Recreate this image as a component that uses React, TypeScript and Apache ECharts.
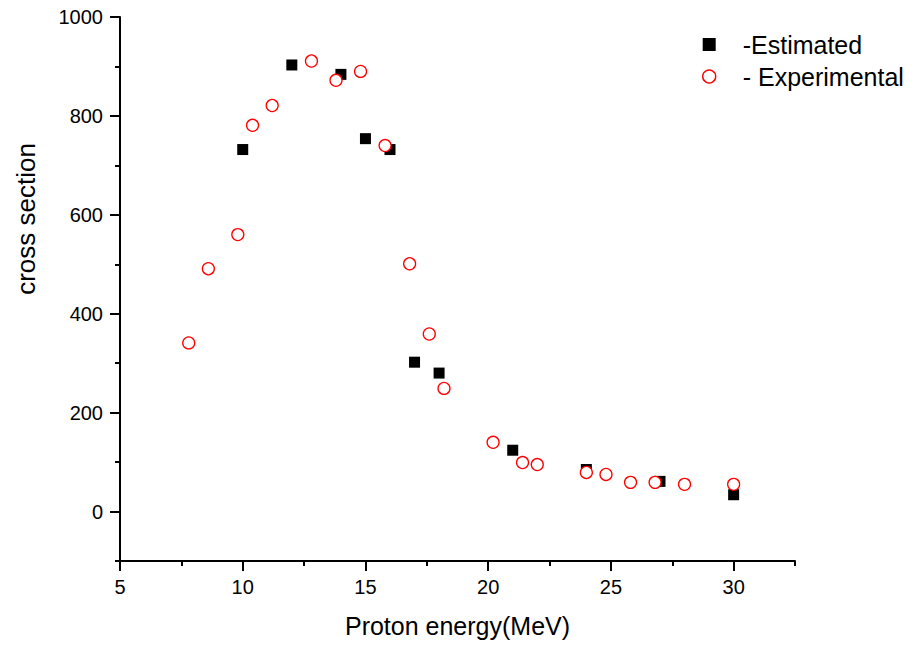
import React, { useEffect, useRef } from 'react';
import * as echarts from 'echarts';

const estimatedName = '-Estimated';
const experimentalName = '- Experimental';
const estimatedX = [10, 12, 14, 15, 16, 17, 18, 21, 24, 27, 30];
const estimatedY = [732, 903, 884, 754, 732, 302, 280, 124, 85, 61, 34];
const experimentalX = [7.8, 8.6, 9.8, 10.4, 11.2, 12.8, 13.8, 14.8, 15.8, 16.8, 17.6, 18.2, 20.2, 21.4, 22, 24, 24.8, 25.8, 26.8, 28, 30];
const experimentalY = [341, 491, 560, 781, 821, 911, 872, 890, 740, 501, 359, 249, 140, 99, 95, 79, 75, 59, 59, 55, 55];
const xMajorTicks = [5, 10, 15, 20, 25, 30];
const xMinorTicks = [7.5, 12.5, 17.5, 22.5, 27.5, 32.5];
const yMajorTicks = [0, 200, 400, 600, 800, 1000];
const yMinorTicks = [-100, 100, 300, 500, 700, 900];
const xAxisTitle = 'Proton energy(MeV)';
const yAxisTitle = 'cross section';

const FONT = '"Liberation Sans", Arial, sans-serif';

export default function App() {
  const ref = useRef<HTMLDivElement>(null);
  useEffect(() => {
    if (!ref.current) return;
    const chart = echarts.init(ref.current, null, { renderer: 'svg' });
    const axisLine = { show: true, onZero: false, lineStyle: { color: '#000', width: 2 } };
    const plain = (v: number) => String(v);
    chart.setOption({
      animation: false,
      backgroundColor: '#fff',
      textStyle: { fontFamily: FONT },
      grid: { left: 120, right: 120, top: 17, bottom: 87, containLabel: false },
      legend: {
        orient: 'vertical',
        left: 697,
        top: 27,
        itemWidth: 13,
        itemHeight: 13,
        itemGap: 7,
        textStyle: { fontSize: 25, color: '#000', fontFamily: FONT, padding: [0, 0, 0, 22] },
        data: [
          { name: estimatedName, icon: 'rect', itemStyle: { color: '#000', opacity: 1 } },
          { name: experimentalName, icon: 'circle', itemStyle: { color: '#fff', borderColor: '#ff0000', borderWidth: 1.4, opacity: 1 } },
        ],
      },
      xAxis: [
        {
          type: 'value', min: 5, max: 32.5, position: 'bottom',
          axisLine,
          axisTick: { show: true, customValues: xMajorTicks, length: 10, lineStyle: { color: '#000', width: 2 } },
          axisLabel: { customValues: xMajorTicks, formatter: plain, fontSize: 20, color: '#000', margin: 16, fontFamily: FONT },
          splitLine: { show: false },
          name: xAxisTitle, nameLocation: 'middle', nameGap: 52,
          nameTextStyle: { fontSize: 25, color: '#000', fontFamily: FONT },
        },
        {
          type: 'value', min: 5, max: 32.5, position: 'bottom',
          axisLine: { show: false, onZero: false },
          axisTick: { show: true, customValues: xMinorTicks, length: 5, lineStyle: { color: '#000', width: 2 } },
          axisLabel: { show: false },
          splitLine: { show: false },
        },
      ],
      yAxis: [
        {
          type: 'value', min: -100, max: 1000, position: 'left',
          axisLine,
          axisTick: { show: true, customValues: yMajorTicks, length: 10, lineStyle: { color: '#000', width: 2 } },
          axisLabel: { customValues: yMajorTicks, formatter: plain, fontSize: 20, color: '#000', margin: 17, fontFamily: FONT },
          splitLine: { show: false },
        },
        {
          type: 'value', min: -100, max: 1000, position: 'left',
          axisLine: { show: false, onZero: false },
          axisTick: { show: true, customValues: yMinorTicks, length: 5, lineStyle: { color: '#000', width: 2 } },
          axisLabel: { show: false },
          splitLine: { show: false },
        },
      ],
      graphic: [
        {
          type: 'text', x: 26, y: 219, rotation: Math.PI / 2,
          style: { text: yAxisTitle, fontSize: 26, fill: '#000', fontFamily: FONT, align: 'center', verticalAlign: 'middle' },
        },
      ],
      series: [
        {
          name: estimatedName, type: 'scatter', xAxisIndex: 0, yAxisIndex: 0,
          symbol: 'rect', symbolSize: 11,
          itemStyle: { color: '#000', opacity: 1 },
          data: estimatedX.map((x, i) => [x, estimatedY[i]]),
          z: 2,
        },
        {
          name: experimentalName, type: 'scatter', xAxisIndex: 0, yAxisIndex: 0,
          symbol: 'circle', symbolSize: 12,
          itemStyle: { color: '#fff', borderColor: '#ff0000', borderWidth: 1.3, opacity: 1 },
          data: experimentalX.map((x, i) => [x, experimentalY[i]]),
          z: 3,
        },
      ],
    });
    return () => chart.dispose();
  }, []);
  return <div ref={ref} style={{ position: 'fixed', left: 0, top: 0, width: 915, height: 648 }} />;
}
